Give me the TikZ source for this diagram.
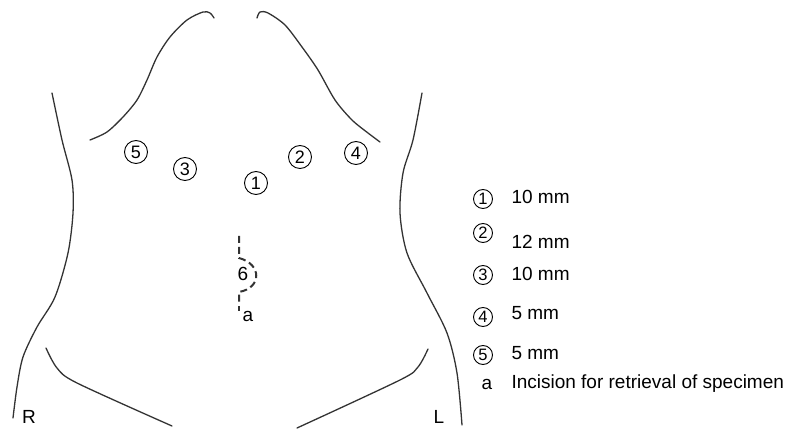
\documentclass[tikz,border=0pt]{standalone}
\usepackage{fontspec}
\setmainfont{Liberation Sans}
\usepackage{tikz}
\usetikzlibrary{positioning}

\tikzset{
  outline/.style={line width=1.3pt, draw=black!80, line cap=round},
  lbl/.style={font=\fontsize{19}{19}\selectfont},
  port/.style={circle, draw, line width=0.9pt, inner sep=0pt, minimum size=23pt, font=\fontsize{18}{18}\selectfont},
  keyport/.style={circle, draw, line width=0.9pt, inner sep=0pt, minimum size=19pt, font=\fontsize{16.5}{16.5}\selectfont},
  keytext/.style={anchor=west, font=\fontsize{19}{19}\selectfont},
  cut/.style={line width=2pt, draw=black!80, dash pattern=on 7pt off 4pt}
}

\begin{document}
\begin{tikzpicture}[x=1pt, y=-1pt]
    \useasboundingbox (0,0) rectangle (793,430);

    % Trunk sides
    \draw[outline] plot[smooth] coordinates {(52,93) (62,140) (72,180) (73,213) (68,253) (55,297) (37,327) (23,357) (17,387) (13,418)};
    \draw[outline] plot[smooth] coordinates {(422,93) (413,140) (403,173) (400,213) (407,253) (427,293) (447,333) (457,373) (462,425)};

    % Neck and shoulders
    \draw[outline] plot[smooth] coordinates {(90,140) (107,132) (123,117) (137,100) (147,80) (157,57) (170,37) (187,20) (203,12) (210,13) (214,18)};
    \draw[outline] plot[smooth] coordinates {(257,18) (260,12) (268,13) (285,25) (302,47) (318,70) (335,100) (352,120) (368,133) (380,142)};

    % Groin lines
    \draw[outline] plot[smooth] coordinates {(46,348) (57,368) (77,383) (172,426)};
    \draw[outline] plot[smooth] coordinates {(428,349) (418,367) (400,380) (297,428)};

    \node[lbl] (R) at (29,417) {R};
    \node[lbl] (L) at (439,417) {L};

    % Trocar sites
    \node[port] (p1) at (256,183) {1};
    \node[port] (p2) at (300,157) {2};
    \node[port] (p3) at (185,169) {3};
    \node[port] (p4) at (356,153) {4};
    \node[port] (p5) at (136,152) {5};

    % Incision
    \coordinate (c1) at (239,236);
    \coordinate (c2) at (239,258);
    \coordinate (c3) at (239,292);
    \coordinate (c4) at (239,303);
    \draw[cut] (c1) -- (c2) .. controls (262,264) and (262,288) .. (c3) -- (c4);
    \fill[black!80] (237.8,306) rectangle (240.2,311);
    \node[lbl] (six) at (243,274) {6};
    \node[lbl] (a) at (248,316) {a};

    % Key
    \node[keyport] (k1) at (483,199) {1};
    \node[keytext] (t1) at (508,197) {10 mm};
    \node[keyport] (k2) at (483,233) {2};
    \node[keytext] (t2) at (508,242) {12 mm};
    \node[keyport] (k3) at (483,275) {3};
    \node[keytext] (t3) at (508,274) {10 mm};
    \node[keyport] (k4) at (483,317) {4};
    \node[keytext] (t4) at (508,313) {5 mm};
    \node[keyport] (k5) at (483,355) {5};
    \node[keytext] (t5) at (508,353) {5 mm};
    \node[lbl] (k6) at (487,384) {a};
    \node[keytext] (t6) at (508,384) {Incision for retrieval of specimen};
\end{tikzpicture}
\end{document}
